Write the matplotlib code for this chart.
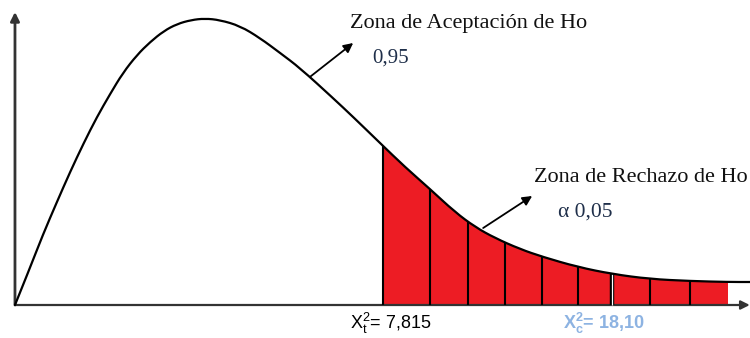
import numpy as np
import matplotlib.pyplot as plt
from matplotlib.path import Path
from matplotlib.patches import PathPatch, Rectangle

# curva chi-cuadrado (esquema)
curva_x = [0.00, 0.30, 0.59, 0.89, 1.17, 1.46, 1.74, 2.02, 2.29, 2.59, 2.87, 3.16,
           3.44, 3.74, 4.03, 4.35, 4.78, 5.20, 5.63, 6.05, 6.75, 7.18, 7.75, 8.28,
           8.81, 9.34, 9.77, 10.19, 10.72, 11.21, 11.95, 12.68, 13.48, 14.33,
           15.14, 15.61]
curva_y = [0.000, 0.035, 0.070, 0.103, 0.133, 0.162, 0.188, 0.211, 0.232, 0.250,
           0.263, 0.274, 0.281, 0.285, 0.2865, 0.285, 0.279, 0.267, 0.252, 0.237,
           0.207, 0.188, 0.162, 0.138, 0.116, 0.093, 0.078, 0.067, 0.056, 0.048,
           0.038, 0.031, 0.026, 0.024, 0.023, 0.023]

# divisiones de la zona de rechazo
divisiones = [7.815, 8.81, 9.62, 10.40, 11.19, 11.95, 12.68, 13.48, 14.33, 15.14]
x_tabla = 7.815
x_calc = 12.68

etiqueta_acep = 'Zona de Aceptación de Ho'
valor_acep = '0,95'
etiqueta_rech = 'Zona de Rechazo de Ho'
valor_rech = 'α 0,05'

curva_x = np.array(curva_x)
curva_y = np.array(curva_y)


def trazo_suave(xs, ys):
    # los puntos leidos hacen de puntos de control de curvas cuadraticas
    pts = np.column_stack([xs, ys])
    verts = [pts[0]]
    codes = [Path.MOVETO]
    for i in range(1, len(pts) - 1):
        verts += [pts[i], (pts[i] + pts[i + 1]) / 2]
        codes += [Path.CURVE3, Path.CURVE3]
    verts.append(pts[-1])
    codes.append(Path.LINETO)
    return verts, codes


plt.rcParams['mathtext.fontset'] = 'custom'
plt.rcParams['mathtext.rm'] = 'Liberation Sans'
plt.rcParams['mathtext.bf'] = 'Liberation Sans:bold'

fig = plt.figure(figsize=(7.5, 3.38), dpi=100)
ax = fig.add_axes([0, 0, 1, 1])
ax.set_xlim(-0.318, 15.605)
ax.set_ylim(-0.033, 0.305)
ax.axis('off')

# ejes con flecha
ax.annotate('', xy=(0, 0.293), xytext=(0, 0),
            arrowprops=dict(arrowstyle='-|>', color='#333333', lw=2, mutation_scale=13, shrinkA=0, shrinkB=0))
ax.annotate('', xy=(15.60, 0), xytext=(0, 0),
            arrowprops=dict(arrowstyle='-|>', color='#333333', lw=1.6, mutation_scale=13, shrinkA=0, shrinkB=0))

verts, codes = trazo_suave(curva_x, curva_y)
linea = Path(verts, codes)
poligono = linea.to_polygons(closed_only=False)[0]

# zona de rechazo en rojo (area bajo la curva recortada)
area = Path(verts + [(curva_x[-1], 0), (curva_x[0], 0), (curva_x[0], 0)],
            codes + [Path.LINETO, Path.LINETO, Path.CLOSEPOLY])
roja = PathPatch(area, facecolor='#ED1C24', lw=0, zorder=2)
ax.add_patch(roja)
corte = Rectangle((x_tabla, 0), divisiones[-1] - x_tabla, 1, transform=ax.transData)
roja.set_clip_path(corte)

for d in divisiones[:-1]:
    h = np.interp(d, poligono[:, 0], poligono[:, 1])
    if d == x_calc:
        ax.plot([d, d], [0, h], color='black', lw=3.2, zorder=3, solid_capstyle='butt')
        ax.plot([d, d], [0, h], color='white', lw=0.9, zorder=4, solid_capstyle='butt')
    else:
        ax.plot([d, d], [0, h], color='black', lw=1.5, zorder=3, solid_capstyle='butt')

ax.add_patch(PathPatch(linea, facecolor='none', edgecolor='black',
                       lw=1.6, zorder=5, joinstyle='round', capstyle='round'))

# flechas de las zonas
ax.annotate('', xy=(7.18, 0.262), xytext=(6.26, 0.228),
            arrowprops=dict(arrowstyle='-|>', color='black', lw=1.3, mutation_scale=14, shrinkA=0, shrinkB=0))
ax.annotate('', xy=(10.98, 0.109), xytext=(9.94, 0.077),
            arrowprops=dict(arrowstyle='-|>', color='black', lw=1.3, mutation_scale=14, shrinkA=0, shrinkB=0))

serif = 'Liberation Serif'
ax.text(7.11, 0.281, etiqueta_acep, family=serif, fontsize=16, color='#111111',
        ha='left', va='center')
ax.text(7.58, 0.247, valor_acep, family=serif, fontsize=15, color='#1f2f4a',
        ha='left', va='center')
ax.text(11.02, 0.127, etiqueta_rech, family=serif, fontsize=16, color='#111111',
        ha='left', va='center')
ax.text(11.53, 0.093, valor_rech, family=serif, fontsize=15.5, color='#1f2f4a',
        ha='left', va='center')

ax.text(7.11, -0.018, r'$\mathregular{X^{2}_{t}}$= 7,815', family='Liberation Sans',
        fontsize=13, color='black', ha='left', va='center')
ax.text(11.63, -0.018, r'$\mathbf{X^{2}_{c}}$= 18,10', family='Liberation Sans',
        fontsize=13, color='#8DB3E2', fontweight='bold', ha='left', va='center')

fig.savefig('out.png', dpi=100)
